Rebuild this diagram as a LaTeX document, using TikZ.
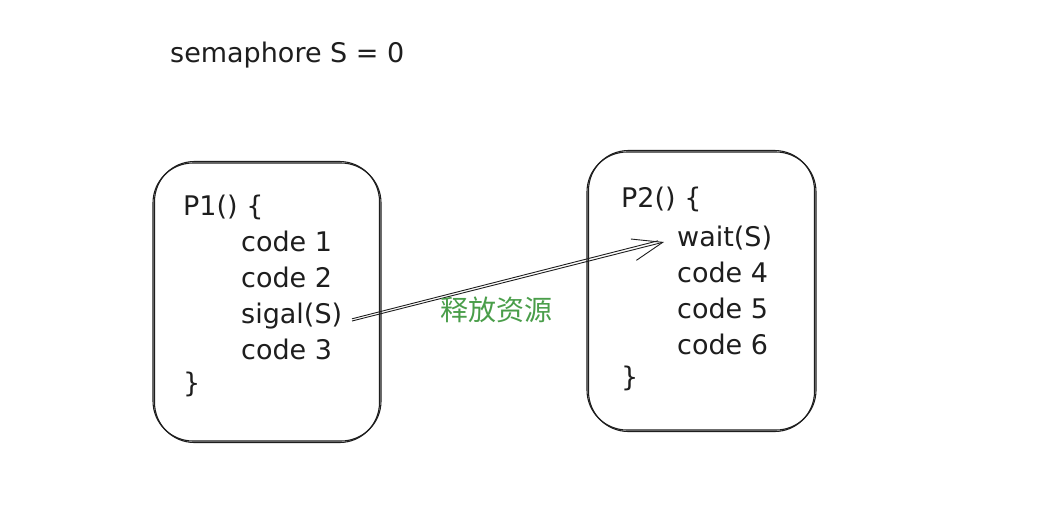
\documentclass[tikz,border=0pt]{standalone}
\usepackage{fontspec}
\setsansfont{DejaVu Sans}
\newfontfamily\cjk{Noto Sans CJK SC}
\usetikzlibrary{arrows.meta}
\definecolor{ink}{HTML}{1E1E1E}
\definecolor{lbl}{HTML}{4A9E4A}
\tikzset{
  code/.style={anchor=west, inner sep=0pt, text=ink, font=\sffamily\fontsize{27}{32}\selectfont, text height=19pt, text depth=6pt},
  sketch/.style={draw=ink, line width=1.1pt, rounded corners=40pt},
  conn/.style={draw=ink, line width=0.9pt},
}
\begin{document}
\begin{tikzpicture}[x=1pt,y=-1pt]
\useasboundingbox[fill=white] (0,0) rectangle (1054,504);
% title
\node[code] (sem) at (170,56) {semaphore S = 0};
% box 1
\path[sketch] (153,163) rectangle (381,441);
\path[sketch] (154.5,161.5) rectangle (379.5,442.5);
\node[code] (p1) at (183,209) {P1() \{};
\node[code] (c1) at (241,245) {code 1};
\node[code] (c2) at (241,281) {code 2};
\node[code] (sig) at (241,317) {sigal(S)};
\node[code] (c3) at (241,353) {code 3};
\node[code] (e1) at (183,386) {\}};
% box 2
\path[sketch] (587,152) rectangle (816,430);
\path[sketch] (588.5,150.5) rectangle (814.5,431.5);
\node[code] (p2) at (621,201) {P2() \{};
\node[code] (wait) at (677,240) {wait(S)};
\node[code] (c4) at (677,276) {code 4};
\node[code] (c5) at (677,312) {code 5};
\node[code] (c6) at (677,348) {code 6};
\node[code] (e2) at (621,380) {\}};
% arrow
\coordinate (a0) at ([xshift=111pt,yshift=-4pt]sig.west);
\coordinate (a1) at ([xshift=-13pt,yshift=-2pt]wait.west);
\draw[conn, -{Straight Barb[length=30pt,width=22pt,line width=0.9pt]}] (a0) -- (a1);
\draw[conn] ([yshift=2.2pt]a0) -- ([yshift=1.2pt,xshift=-6pt]a1);
\node[text=lbl, font=\cjk\fontsize{28}{32}\selectfont, inner sep=0pt] (lab) at (496,310) {释放资源};
\end{tikzpicture}
\end{document}
